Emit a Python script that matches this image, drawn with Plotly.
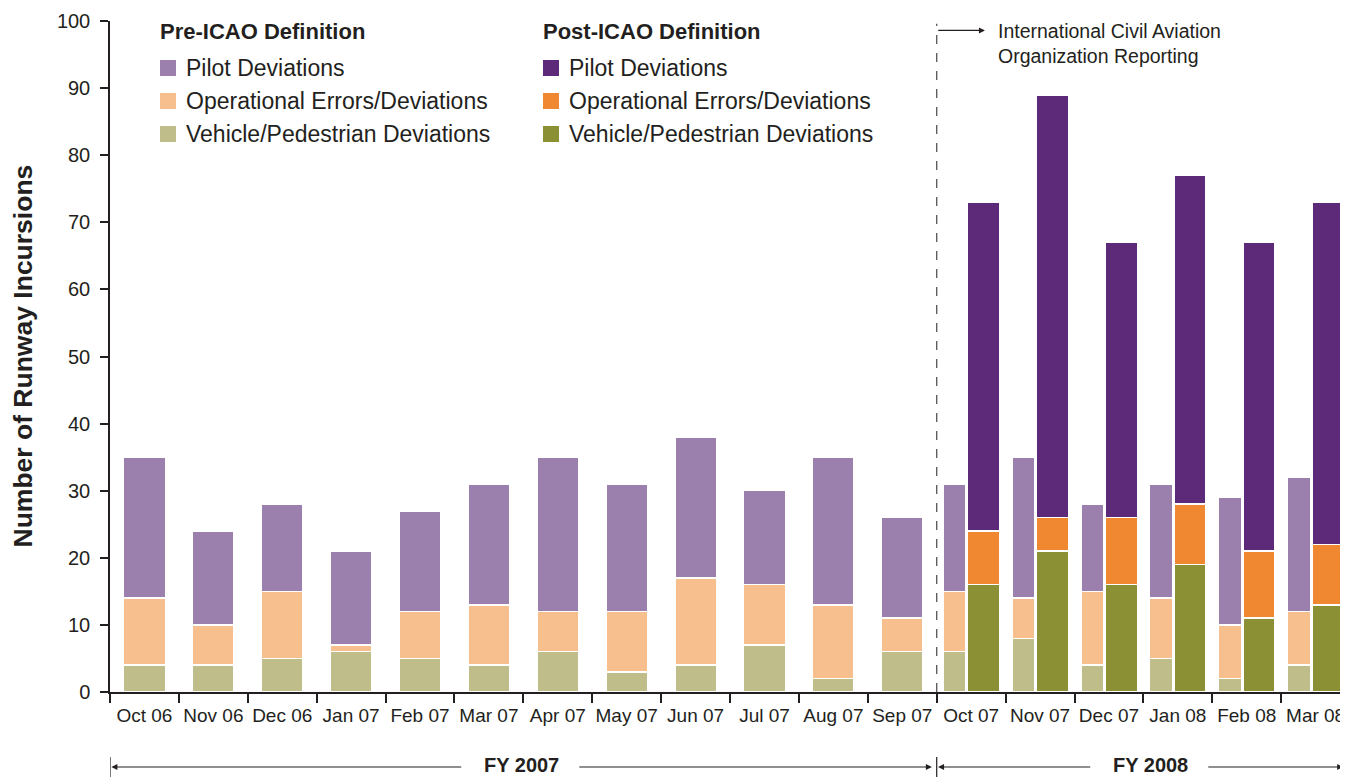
import plotly.graph_objects as go

months = ["Oct 06", "Nov 06", "Dec 06", "Jan 07", "Feb 07", "Mar 07",
          "Apr 07", "May 07", "Jun 07", "Jul 07", "Aug 07", "Sep 07",
          "Oct 07", "Nov 07", "Dec 07", "Jan 08", "Feb 08", "Mar 08"]

# Pre-ICAO definition (all 18 months)
pre_vehicle = [4, 4, 5, 6, 5, 4, 6, 3, 4, 7, 2, 6, 6, 8, 4, 5, 2, 4]
pre_operational = [10, 6, 10, 1, 7, 9, 6, 9, 13, 9, 11, 5, 9, 6, 11, 9, 8, 8]
pre_pilot = [21, 14, 13, 14, 15, 18, 23, 19, 21, 14, 22, 15, 16, 21, 13, 17, 19, 20]

# Post-ICAO definition (Oct 07 - Mar 08)
post_months = months[12:]
post_vehicle = [16, 21, 16, 19, 11, 13]
post_operational = [8, 5, 10, 9, 10, 9]
post_pilot = [49, 63, 41, 49, 46, 51]

TEXT = "#231F20"
PRE_COLORS = {"pilot": "#9B80AD", "op": "#F7BE8E", "veh": "#BFBE8A"}
POST_COLORS = {"pilot": "#5C2A78", "op": "#EF8831", "veh": "#8B9035"}
SANS = "Liberation Sans, Arial, sans-serif"

# bar placement: single bar before ICAO, pair of bars afterwards
n_single = 12
pre_x = [i if i < n_single else i - 0.242 for i in range(len(months))]
pre_w = [0.605 if i < n_single else 0.334 for i in range(len(months))]
post_x = [months.index(m) + 0.18 for m in post_months]
post_w = [0.464] * len(post_months)

fig = go.Figure()
for name, vals, key in [("Vehicle/Pedestrian Deviations", pre_vehicle, "veh"),
                        ("Operational Errors/Deviations", pre_operational, "op"),
                        ("Pilot Deviations", pre_pilot, "pilot")]:
    fig.add_trace(go.Bar(x=pre_x, y=vals, width=pre_w, name="Pre-ICAO " + name,
                         marker=dict(color=PRE_COLORS[key], line=dict(color="white", width=1.5)),
                         showlegend=False))
for name, vals, key in [("Vehicle/Pedestrian Deviations", post_vehicle, "veh"),
                        ("Operational Errors/Deviations", post_operational, "op"),
                        ("Pilot Deviations", post_pilot, "pilot")]:
    fig.add_trace(go.Bar(x=post_x, y=vals, width=post_w, name="Post-ICAO " + name,
                         marker=dict(color=POST_COLORS[key], line=dict(color="white", width=1.5)),
                         showlegend=False))

# page body adds an 8px margin, so the figure is 8px smaller on each side
W, H = 1340, 769
ML, MR, MT, MB = 102, 0, 13, 85
PW, PH = W - ML - MR, H - MT - MB


def px(x):
    # x in screen pixels -> paper
    return (x - 8 - ML) / PW


def py(y):
    return (H - MB - (y - 8)) / PH


shapes = []
annotations = []

# ICAO divider
shapes.append(dict(type="line", xref="x", yref="y", x0=11.5, x1=11.5, y0=0, y1=99.6,
                   line=dict(color="#555555", width=1.3, dash="dash")))
annotations.append(dict(xref="x", yref="y", axref="x", ayref="y", x=12.2, y=98.6,
                        ax=11.5, ay=98.6, text="", showarrow=True, arrowhead=2,
                        arrowsize=1, arrowwidth=1.2, arrowcolor=TEXT))
annotations.append(dict(xref="x", yref="y", x=12.36, y=96.6, xanchor="left", yanchor="middle",
                        align="left", showarrow=False,
                        text="International Civil Aviation<br>Organization Reporting",
                        font=dict(family=SANS, size=19.5, color=TEXT)))

# y axis title
annotations.append(dict(xref="paper", yref="paper", x=px(22), y=0.5, textangle=-90,
                        showarrow=False, xanchor="center", yanchor="middle",
                        text="<b>Number of Runway Incursions</b>",
                        font=dict(family=SANS, size=26.5, color=TEXT)))

# legend blocks
legend_rows = [("Pilot Deviations", "pilot"),
               ("Operational Errors/Deviations", "op"),
               ("Vehicle/Pedestrian Deviations", "veh")]
for title, x_sq, colors in [("Pre-ICAO Definition", 160, PRE_COLORS),
                            ("Post-ICAO Definition", 543, POST_COLORS)]:
    annotations.append(dict(xref="paper", yref="paper", x=px(x_sq - 2), y=py(31),
                            xanchor="left", yanchor="middle", showarrow=False,
                            text="<b>" + title + "</b>",
                            font=dict(family=SANS, size=22, color=TEXT)))
    for k, (label, key) in enumerate(legend_rows):
        yc = 68 + 33 * k
        shapes.append(dict(type="rect", xref="paper", yref="paper",
                           x0=px(x_sq), x1=px(x_sq + 16), y0=py(yc + 8), y1=py(yc - 8),
                           fillcolor=colors[key], line=dict(width=0)))
        annotations.append(dict(xref="paper", yref="paper", x=px(x_sq + 24), y=py(yc),
                                xanchor="left", yanchor="middle", showarrow=False,
                                text=label, font=dict(family=SANS, size=23, color=TEXT)))

# fiscal year spans under the axis
fy_y = py(767)
for x0, x1, xt, label in [(-0.5, 11.5, 5.47, "FY 2007"), (11.5, 17.47, 14.6, "FY 2008")]:
    annotations.append(dict(xref="x", yref="y domain", axref="x", ayref="y domain",
                            x=x0 + 0.02, y=fy_y, ax=xt - 0.85, ay=fy_y, text="",
                            showarrow=True, arrowhead=2, arrowsize=1, arrowwidth=1.2,
                            arrowcolor=TEXT))
    annotations.append(dict(xref="x", yref="y domain", axref="x", ayref="y domain",
                            x=x1 - 0.07, y=fy_y, ax=xt + 0.82, ay=fy_y, text="",
                            showarrow=True, arrowhead=2, arrowsize=1, arrowwidth=1.2,
                            arrowcolor=TEXT))
    annotations.append(dict(xref="x", yref="y domain", x=xt, y=py(765), xanchor="center",
                            yanchor="middle", showarrow=False, text="<b>" + label + "</b>",
                            font=dict(family=SANS, size=20, color=TEXT)))
for xb in [-0.5, 11.5, 17.45]:
    shapes.append(dict(type="line", xref="x", yref="paper", x0=xb, x1=xb,
                       y0=py(757), y1=py(777), line=dict(color=TEXT, width=1.2)))

fig.update_layout(
    width=W, height=H,
    margin=dict(l=ML, r=MR, t=MT, b=MB),
    barmode="stack",
    plot_bgcolor="white", paper_bgcolor="white",
    shapes=shapes, annotations=annotations,
    xaxis=dict(range=[-0.5, 17.47], tickmode="array", tickvals=list(range(len(months))),
               ticktext=months, tickangle=0, automargin=False,
               ticks="outside", ticklen=5, tickcolor="rgba(0,0,0,0)",
               tickfont=dict(family=SANS, size=19, color=TEXT),
               showline=True, linecolor=TEXT, linewidth=1.5, showgrid=False, zeroline=False,
               minor=dict(tickmode="array", tickvals=[i - 0.5 for i in range(len(months) + 1)],
                          ticks="outside", ticklen=9, tickwidth=1.5, tickcolor=TEXT,
                          showgrid=False)),
    yaxis=dict(range=[0, 100], dtick=10, ticks="outside", ticklen=8, tickwidth=1.5,
               tickcolor=TEXT, showline=True, linecolor=TEXT, linewidth=1.5,
               showgrid=False, zeroline=False, automargin=False, ticklabelstandoff=6,
               tickfont=dict(family=SANS, size=20, color=TEXT)),
)

fig.write_html("out.html")
